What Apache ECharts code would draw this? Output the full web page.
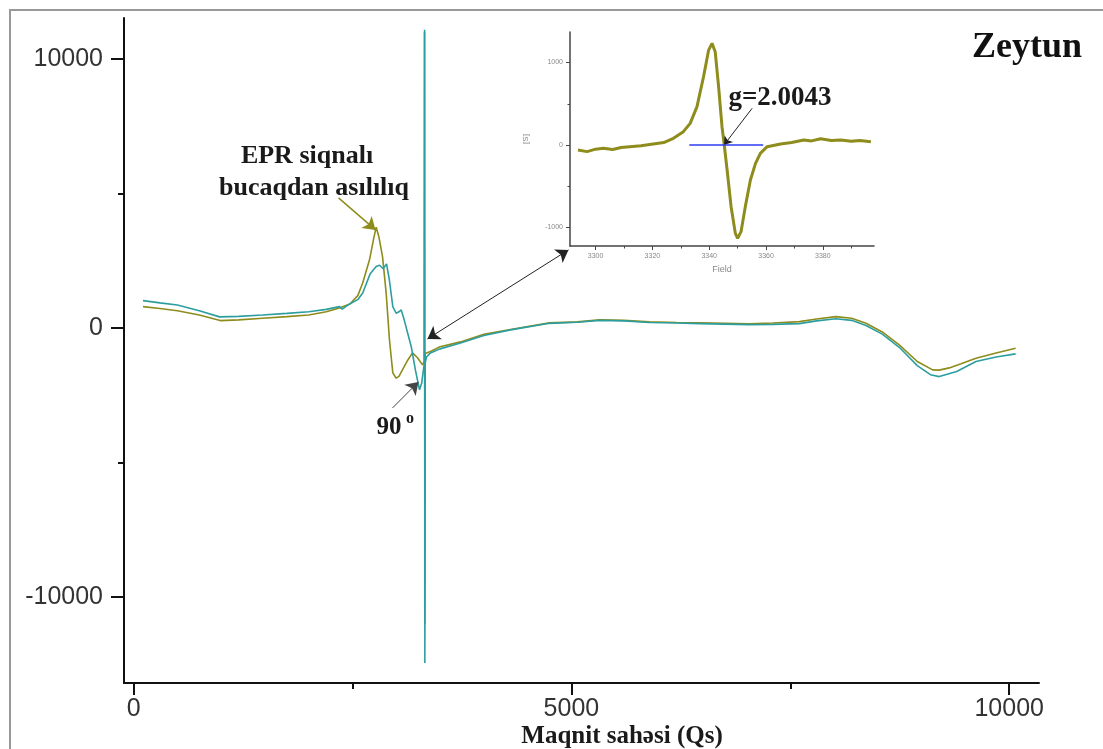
<!DOCTYPE html>
<html>
<head>
<meta charset="utf-8">
<script src="https://cdn.jsdelivr.net/npm/echarts@6/dist/echarts.min.js"></script>
<style>
html,body{margin:0;padding:0;background:#fff;}
#c{width:1103px;height:749px;}
</style>
</head>
<body>
<div id="c"></div>
<script>
// ---- main chart data (Magnetic field, signal) ----
var oliveMain = [
  [107,790],[300,720],[500,640],[750,480],[988,272],[1200,300],[1473,360],[1750,420],[2000,480],
  [2200,600],[2350,740],[2470,890],[2560,1200],[2616,1670],[2694,2530],[2740,3300],[2770,3740],
  [2800,3400],[2843,2640],[2884,1300],[2922,-450],[2960,-1670],[2998,-1870],[3030,-1800],
  [3070,-1560],[3130,-1200],[3185,-930],[3240,-1100],[3299,-1375],[3318,-1250],
  [3322,11000],[3326,-11000],[3330,-950],[3390,-880],[3500,-700],[3733,-520],[4000,-240],
  [4304,-60],[4749,186],[5068,223],[5320,300],[5600,280],[5890,223],[6200,200],[6461,186],
  [6750,170],[7032,150],[7300,180],[7603,234],[7800,330],[8021,420],[8200,360],[8364,173],
  [8550,-150],[8744,-632],[8950,-1250],[9125,-1561],[9200,-1570],[9315,-1487],[9450,-1330],
  [9620,-1127],[9850,-930],[10073,-756]
];
var tealMain = [
  [107,1015],[300,930],[500,850],[750,640],[982,410],[1200,430],[1473,480],[1750,540],[2000,600],
  [2200,690],[2352,790],[2382,695],[2466,890],[2560,1050],[2616,1300],[2700,2000],[2770,2280],
  [2808,2330],[2850,2200],[2888,2380],[2920,1800],[2960,790],[2998,545],[3030,600],[3056,670],
  [3090,300],[3130,-200],[3170,-690],[3220,-1600],[3265,-2300],[3290,-2050],[3312,-1500],
  [3320,-1300],[3323,11080],[3326,-12460],[3330,-1300],[3345,-1080],[3390,-930],[3500,-780],
  [3733,-558],[4000,-280],[4304,-74],[4749,170],[5068,210],[5320,280],[5600,260],[5890,200],
  [6200,180],[6461,160],[6750,140],[7032,120],[7300,130],[7603,160],[7800,260],[8021,340],
  [8200,280],[8364,90],[8550,-230],[8744,-720],[8950,-1400],[9100,-1740],[9201,-1810],
  [9400,-1620],[9620,-1250],[9850,-1080],[10073,-966]
];
var mainXMajor = [0,5000,10000];
var mainXMinor = [2500,7500];
var mainYMajor = [-10000,0,10000];
var mainYMinor = [-5000,5000];

// ---- inset data (Field, [S]) ----
var insetSignal = [
  [3293.8,-61],[3297,-80],[3300,-50],[3302.7,-40],[3306,-55],[3309,-30],[3312,-20],[3316,-10],
  [3320.3,12],[3324,30],[3327.4,81],[3330.9,162],[3333.3,263],[3335.7,465],[3338,828],
  [3339.8,1151],[3341,1232],[3342.1,1131],[3343.3,707],[3344.5,222],[3345.3,0],[3346.3,-303],
  [3347.7,-747],[3349.2,-1071],[3350,-1131],[3351.2,-1050],[3352.7,-747],[3354.5,-424],
  [3356.3,-222],[3358,-101],[3360.4,-20],[3365.1,12],[3369,30],[3373.3,61],[3376,50],
  [3379.2,75],[3383,55],[3386.3,61],[3390,45],[3393,55],[3396.9,40]
];
var insetBaseline = [[3333,0],[3359,0]];
var insetXMajor = [3300,3320,3340,3360,3380];
var insetXMinor = [3310,3330,3350,3370,3390];
var insetYMajor = [-1000,0,1000];
var insetYMinor = [-500,500];

var OLIVE = '#8e8c1c';
var TEAL = '#2c9ea0';
var SERIF = '"Liberation Serif","Times New Roman",serif';
var SANS = '"Liberation Sans",Arial,sans-serif';
var plain = function (v) { return String(v); };

var chart = echarts.init(document.getElementById('c'), null, {renderer:'canvas'});

function arrow(from, to, color, width, both, size) {
  return [
    {coord:from, symbol: both ? 'arrow' : 'none', symbolSize:size,
     lineStyle:{color:color, width:width, type:'solid'}, itemStyle:{color:color}},
    {coord:to, symbol:'arrow', symbolSize:size, itemStyle:{color:color}}
  ];
}

var option = {
  animation:false,
  backgroundColor:'#fff',
  grid:[
    {left:124, top:18, width:915, height:665},
    {left:570, top:32, width:304, height:214}
  ],
  xAxis:[
    {type:'value', gridIndex:0, min:-110, max:10340, position:'bottom',
     axisLine:{onZero:false, lineStyle:{color:'#111', width:2}},
     axisTick:{show:true, customValues:mainXMajor, length:12, lineStyle:{color:'#111', width:2}},
     axisLabel:{customValues:mainXMajor, formatter:plain, fontSize:25, fontFamily:SANS, color:'#333', margin:14},
     splitLine:{show:false}},
    {type:'value', gridIndex:0, min:-110, max:10340, position:'bottom',
     axisLine:{show:false, onZero:false},
     axisTick:{show:true, customValues:mainXMinor, length:6, lineStyle:{color:'#111', width:2}},
     axisLabel:{show:false}, splitLine:{show:false}},
    {type:'value', gridIndex:1, min:3291, max:3398, position:'bottom',
     name:'Field', nameLocation:'middle', nameGap:19,
     nameTextStyle:{fontSize:9, color:'#888', fontFamily:SANS},
     axisLine:{onZero:false, lineStyle:{color:'#444', width:1.5}},
     axisTick:{show:true, customValues:insetXMajor, length:4, lineStyle:{color:'#444', width:1}},
     axisLabel:{customValues:insetXMajor, formatter:plain, fontSize:7, color:'#888', fontFamily:SANS, margin:7},
     splitLine:{show:false}},
    {type:'value', gridIndex:1, min:3291, max:3398, position:'bottom',
     axisLine:{show:false, onZero:false},
     axisTick:{show:true, customValues:insetXMinor, length:2.5, lineStyle:{color:'#444', width:1}},
     axisLabel:{show:false}, splitLine:{show:false}}
  ],
  yAxis:[
    {type:'value', gridIndex:0, min:-13200, max:11520, position:'left',
     axisLine:{onZero:false, lineStyle:{color:'#111', width:2}},
     axisTick:{show:true, customValues:mainYMajor, length:13, lineStyle:{color:'#111', width:2}},
     axisLabel:{customValues:mainYMajor, formatter:plain, fontSize:25, fontFamily:SANS, color:'#333', margin:21},
     splitLine:{show:false}},
    {type:'value', gridIndex:0, min:-13200, max:11520, position:'left',
     axisLine:{show:false, onZero:false},
     axisTick:{show:true, customValues:mainYMinor, length:6, lineStyle:{color:'#111', width:2}},
     axisLabel:{show:false}, splitLine:{show:false}},
    {type:'value', gridIndex:1, min:-1224, max:1370, position:'left',
     name:'[S]', nameLocation:'middle', nameGap:40, nameRotate:90,
     nameTextStyle:{fontSize:8, color:'#888', fontFamily:SANS},
     axisLine:{onZero:false, lineStyle:{color:'#444', width:1.5}},
     axisTick:{show:true, customValues:insetYMajor, length:4, lineStyle:{color:'#444', width:1}},
     axisLabel:{customValues:insetYMajor, formatter:plain, fontSize:7, color:'#888', fontFamily:SANS, margin:7},
     splitLine:{show:false}},
    {type:'value', gridIndex:1, min:-1224, max:1370, position:'left',
     axisLine:{show:false, onZero:false},
     axisTick:{show:true, customValues:insetYMinor, length:2.5, lineStyle:{color:'#444', width:1}},
     axisLabel:{show:false}, splitLine:{show:false}}
  ],
  series:[
    {type:'line', xAxisIndex:0, yAxisIndex:0, data:oliveMain, showSymbol:false, symbol:'none',
     lineStyle:{color:OLIVE, width:1.6}, z:2,
     markLine:{silent:true, symbol:['none','arrow'], symbolSize:12, label:{show:false},
       data:[
         arrow([2340,4832],[2763,3643], OLIVE, 1.5, false, 12),
         arrow([2957,-2974],[3253,-2007], '#444', 1, false, 12),
         arrow([3356,-409],[4966,2899], '#222', 1, true, 12)
       ]}},
    {type:'line', xAxisIndex:0, yAxisIndex:0, data:tealMain, showSymbol:false, symbol:'none',
     lineStyle:{color:TEAL, width:1.6}, z:3},
    {type:'line', xAxisIndex:2, yAxisIndex:2, data:insetSignal, showSymbol:false, symbol:'none',
     lineStyle:{color:OLIVE, width:3}, z:4},
    {type:'line', xAxisIndex:2, yAxisIndex:2, data:insetBaseline, showSymbol:false, symbol:'none',
     lineStyle:{color:'#2b3cf0', width:1.5}, z:5,
     markLine:{silent:true, symbol:['none','arrow'], symbolSize:8, label:{show:false},
       data:[arrow([3355.1,445],[3345.2,0], '#222', 1, false, 8)]}}
  ],
  graphic:[
    {type:'rect', shape:{x:10, y:10, width:1110, height:780}, style:{fill:'none', stroke:'#999', lineWidth:2}, z:0, silent:true},
    {type:'text', x:1027, y:48, style:{text:'Zeytun', font:'bold 36px '+SERIF, fill:'#111', textAlign:'center', textVerticalAlign:'middle'}},
    {type:'text', x:307, y:156, style:{text:'EPR siqnalı', font:'bold 26px '+SERIF, fill:'#1a1a1a', textAlign:'center', textVerticalAlign:'middle'}},
    {type:'text', x:314, y:188, style:{text:'bucaqdan asılılıq', font:'bold 26px '+SERIF, fill:'#1a1a1a', textAlign:'center', textVerticalAlign:'middle'}},
    {type:'text', x:780, y:98, style:{text:'g=2.0043', font:'bold 27px '+SERIF, fill:'#1a1a1a', textAlign:'center', textVerticalAlign:'middle'}},
    {type:'text', x:389, y:428, style:{text:'90', font:'bold 25px '+SERIF, fill:'#1a1a1a', textAlign:'center', textVerticalAlign:'middle'}},
    {type:'text', x:410, y:419, style:{text:'o', font:'bold 16px '+SERIF, fill:'#1a1a1a', textAlign:'center', textVerticalAlign:'middle'}},
    {type:'text', x:622, y:737, style:{text:'Maqnit sahəsi (Qs)', font:'bold 25px '+SERIF, fill:'#1a1a1a', textAlign:'center', textVerticalAlign:'middle'}}
  ]
};
chart.setOption(option);
</script>
</body>
</html>
